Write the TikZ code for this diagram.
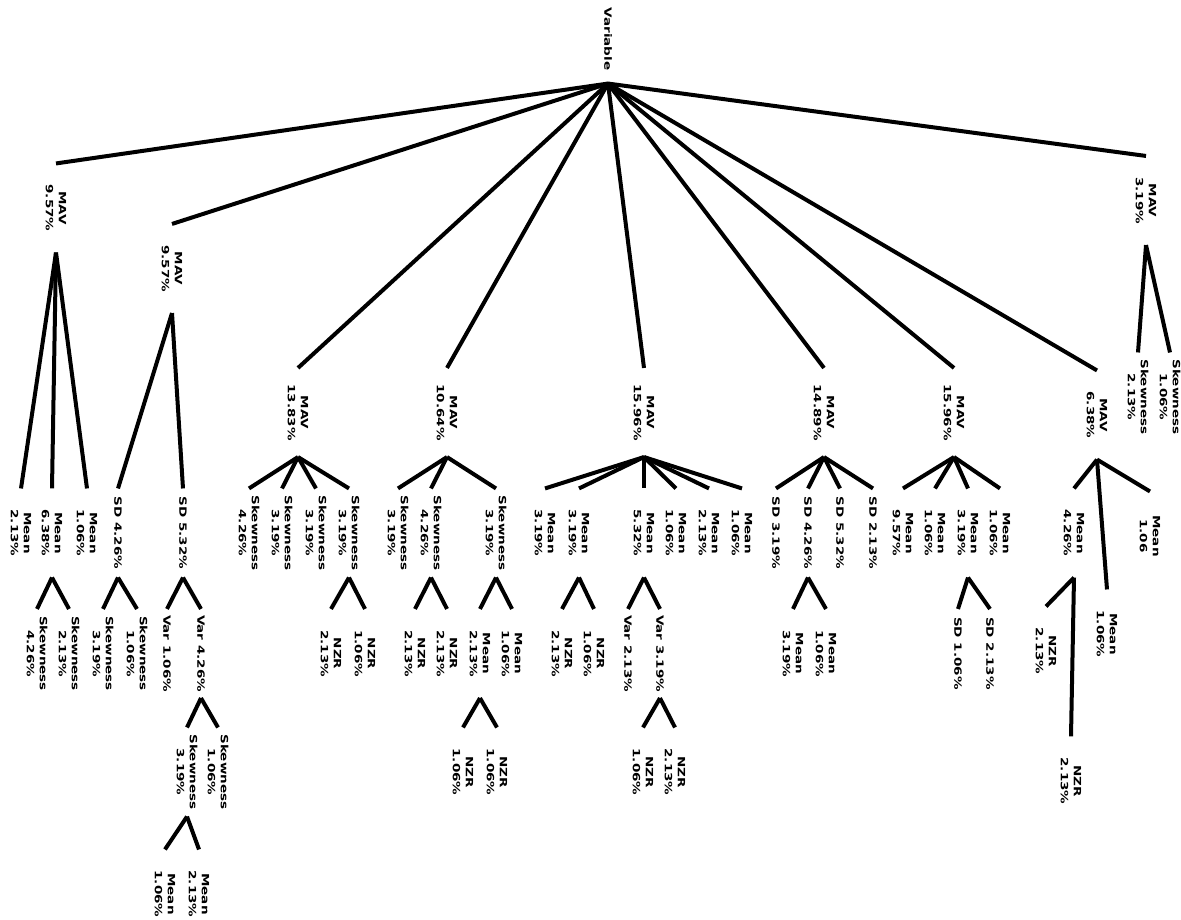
\documentclass[tikz,border=0pt]{standalone}
\usepackage{fontspec}
\setmainfont{DejaVu Sans}
\begin{document}
\begin{tikzpicture}[x=1pt,y=-1pt]
\tikzset{
  lbl/.style={rotate=-90, xscale=1.35, align=center, inner sep=0pt,
    minimum width=65.6pt, font=\fontsize{10}{13}\selectfont\bfseries},
  edge/.style={line width=4pt, black},
}
\useasboundingbox (0,0) rectangle (1181,919);

% root
\node[lbl] (v) at (608,39) {Variable};

% first level
\node[lbl] (a) at (56,208)    {MAV\\9.57\%};
\node[lbl] (b) at (172,268.5) {MAV\\9.57\%};
\node[lbl] (c) at (298,412.5) {MAV\\13.83\%};
\node[lbl] (d) at (447,412.5) {MAV\\10.64\%};
\node[lbl] (e) at (644,412.5) {MAV\\15.96\%};
\node[lbl] (f) at (824,412.5) {MAV\\14.89\%};
\node[lbl] (g) at (954,412.5) {MAV\\15.96\%};
\node[lbl] (h) at (1097,415)  {MAV\\6.38\%};
\node[lbl] (i) at (1146,200.5) {MAV\\3.19\%};

% branch a
\node[lbl] (a1) at (21,533) {Mean\\2.13\%};
\node[lbl] (a2) at (52,533) {Mean\\6.38\%};
\node[lbl] (a3) at (87,533) {Mean\\1.06\%};
\node[lbl] (a21) at (37,653.5) {Skewness\\4.26\%};
\node[lbl] (a22) at (69,653.5) {Skewness\\2.13\%};

% branch b
\node[lbl] (b1) at (118,533) {SD 4.26\%};
\node[lbl] (b2) at (183,533) {SD 5.32\%};
\node[lbl] (b11) at (103,653.5) {Skewness\\3.19\%};
\node[lbl] (b12) at (137,653.5) {Skewness\\1.06\%};
\node[lbl] (b21) at (167,653.5) {Var 1.06\%};
\node[lbl] (b22) at (201,653.5) {Var 4.26\%};
\node[lbl] (b221) at (187,772) {Skewness\\3.19\%};
\node[lbl] (b222) at (218,772) {Skewness\\1.06\%};
\node[lbl] (b2211) at (165,894) {Mean\\1.06\%};
\node[lbl] (b2212) at (199,894) {Mean\\2.13\%};

% branch c
\node[lbl] (c1) at (249,533) {Skewness\\4.26\%};
\node[lbl] (c2) at (282,533) {Skewness\\3.19\%};
\node[lbl] (c3) at (316,533) {Skewness\\3.19\%};
\node[lbl] (c4) at (349,533) {Skewness\\3.19\%};
\node[lbl] (c41) at (331,653.5) {NZR\\2.13\%};
\node[lbl] (c42) at (365,653.5) {NZR\\1.06\%};

% branch d
\node[lbl] (d1) at (398,533) {Skewness\\3.19\%};
\node[lbl] (d2) at (431,533) {Skewness\\4.26\%};
\node[lbl] (d3) at (496,533) {Skewness\\3.19\%};
\node[lbl] (d21) at (415,653.5) {NZR\\2.13\%};
\node[lbl] (d22) at (447,653.5) {NZR\\2.13\%};
\node[lbl] (d31) at (480,653.5) {Mean\\2.13\%};
\node[lbl] (d32) at (512,653.5) {Mean\\1.06\%};
\node[lbl] (d311) at (463,772) {NZR\\1.06\%};
\node[lbl] (d312) at (497,772) {NZR\\1.06\%};

% branch e
\node[lbl] (e1) at (545,533) {Mean\\3.19\%};
\node[lbl] (e2) at (579,533) {Mean\\3.19\%};
\node[lbl] (e3) at (644,533) {Mean\\5.32\%};
\node[lbl] (e4) at (676,533) {Mean\\1.06\%};
\node[lbl] (e5) at (709,533) {Mean\\2.13\%};
\node[lbl] (e6) at (742,533) {Mean\\1.06\%};
\node[lbl] (e21) at (562,653.5) {NZR\\2.13\%};
\node[lbl] (e22) at (594,653.5) {NZR\\1.06\%};
\node[lbl] (e31) at (628,653.5) {Var 2.13\%};
\node[lbl] (e32) at (660,653.5) {Var 3.19\%};
\node[lbl] (e321) at (643,772) {NZR\\1.06\%};
\node[lbl] (e322) at (675,772) {NZR\\2.13\%};

% branch f
\node[lbl] (f1) at (776,533) {SD 3.19\%};
\node[lbl] (f2) at (808,533) {SD 4.26\%};
\node[lbl] (f3) at (840,533) {SD 5.32\%};
\node[lbl] (f4) at (873,533) {SD 2.13\%};
\node[lbl] (f21) at (793,653.5) {Mean\\3.19\%};
\node[lbl] (f22) at (826,653.5) {Mean\\1.06\%};

% branch g
\node[lbl] (g1) at (903,533) {Mean\\9.57\%};
\node[lbl] (g2) at (935,533) {Mean\\1.06\%};
\node[lbl] (g3) at (968,533) {Mean\\3.19\%};
\node[lbl] (g4) at (1000,533) {Mean\\1.06\%};
\node[lbl] (g31) at (958,653.5) {SD 1.06\%};
\node[lbl] (g32) at (990,653.5) {SD 2.13\%};

% branch h
\node[lbl] (h1) at (1074,533) {Mean\\4.26\%};
\node[lbl] (h2) at (1107,634) {Mean\\1.06\%};
\node[lbl] (h3) at (1150,536) {Mean\\1.06};
\node[lbl] (h11) at (1046,651) {NZR\\2.13\%};
\node[lbl] (h12) at (1071,781) {NZR\\2.13\%};

% branch i
\node[lbl] (i1) at (1138,397) {Skewness\\2.13\%};
\node[lbl] (i2) at (1170,397) {Skewness\\1.06\%};

% connectors: parent bottom to child top
\foreach \p/\q in {v/a,v/b,v/c,v/d,v/e,v/f,v/g,v/h,v/i,
  a/a1,a/a2,a/a3,a2/a21,a2/a22,
  b/b1,b/b2,b1/b11,b1/b12,b2/b21,b2/b22,b22/b221,b22/b222,b221/b2211,b221/b2212,
  c/c1,c/c2,c/c3,c/c4,c4/c41,c4/c42,
  d/d1,d/d2,d/d3,d2/d21,d2/d22,d3/d31,d3/d32,d31/d311,d31/d312,
  e/e1,e/e2,e/e3,e/e4,e/e5,e/e6,e2/e21,e2/e22,e3/e31,e3/e32,e32/e321,e32/e322,
  f/f1,f/f2,f/f3,f/f4,f2/f21,f2/f22,
  g/g1,g/g2,g/g3,g/g4,g3/g31,g3/g32,
  h/h1,h/h2,h/h3,h1/h11,h1/h12,
  i/i1,i/i2}
  \draw[edge] (\p.east) -- (\q.west);
\end{tikzpicture}
\end{document}
